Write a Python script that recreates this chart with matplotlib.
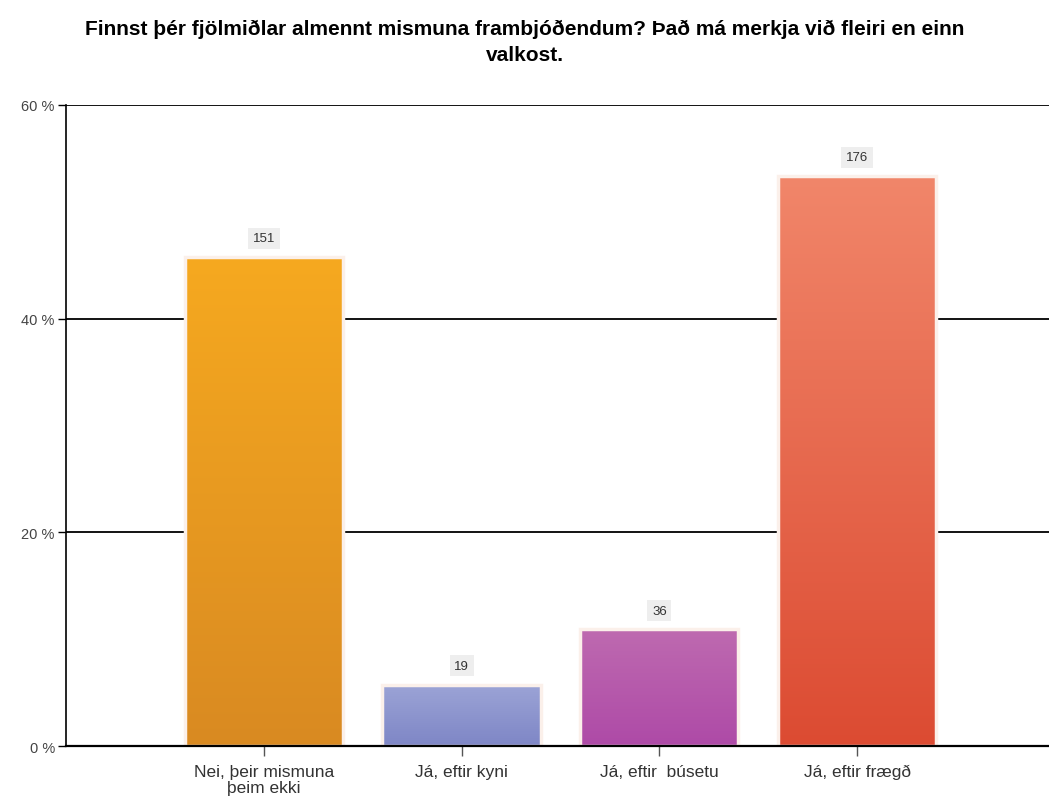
import numpy as np
import matplotlib
matplotlib.use("Agg")
import matplotlib.pyplot as plt
from matplotlib.colors import LinearSegmentedColormap

plt.rcParams['font.family'] = ['Liberation Sans', 'DejaVu Sans']

categories = ["Nei, þeir mismuna\nþeim ekki", "Já, eftir kyni", "Já, eftir  búsetu", "Já, eftir frægð"]
counts = [151, 19, 36, 176]
total = 330
percents = [c / total * 100 for c in counts]
top_colors = ["#F6A91F", "#9CA4D6", "#BE6AB0", "#F1866A"]
bottom_colors = ["#D98A22", "#7E86C6", "#AE4AA7", "#DC4B32"]
yticks = [0, 20, 40, 60]
title = "Finnst þér fjölmiðlar almennt mismuna frambjóðendum? Það má merkja við fleiri en einn\nvalkost."

fig = plt.figure(figsize=(10.49, 8.03), dpi=100)
ax = fig.add_axes([0.0629, 0.0697, 0.9371, 0.7985])

x = np.arange(len(categories))
width = 0.8
bars = ax.bar(x, percents, width=width, color="none", edgecolor="#fbf0ea", linewidth=2.5, zorder=3)

# vertical gradient inside each bar
grad = np.linspace(0, 1, 256).reshape(-1, 1)
for i, b in enumerate(bars):
    cmap = LinearSegmentedColormap.from_list("g%d" % i, [bottom_colors[i], top_colors[i]])
    x0 = b.get_x()
    h = b.get_height()
    im = ax.imshow(grad, cmap=cmap, origin="lower", aspect="auto",
                   extent=(x0, x0 + width, 0, h), zorder=2.5)
    im.set_clip_path(b)
    ax.text(x[i], h + 1.75, str(counts[i]), ha="center", va="center", fontsize=9.5,
            color="#333333", zorder=4,
            bbox=dict(boxstyle="square,pad=0.35", facecolor="#eeeeee", edgecolor="none"))

ax.set_xlim(-1, 3.97)
ax.set_ylim(0, 60)
ax.set_yticks(yticks)
ax.set_yticklabels(["%d %%" % t for t in yticks], fontsize=10.5, color="#444444")
ax.set_xticks(x)
ax.set_xticklabels(categories, fontsize=12.5, color="#333333", linespacing=1.1)
ax.tick_params(axis="y", length=6, width=1, color="black", pad=2)
ax.tick_params(axis="x", length=7, width=1, color="#555555", pad=6)

for t in yticks[1:]:
    ax.axhline(t, color="black", linewidth=1.3, zorder=1)

for s in ["top", "right"]:
    ax.spines[s].set_visible(False)
ax.spines["left"].set_linewidth(1.2)
ax.spines["bottom"].set_linewidth(1.6)
ax.spines["bottom"].set_zorder(5)

fig.text(0.5, 0.975, title, ha="center", va="top", fontsize=15, fontweight="bold",
         linespacing=1.45)

fig.savefig("out.png", dpi=100)
